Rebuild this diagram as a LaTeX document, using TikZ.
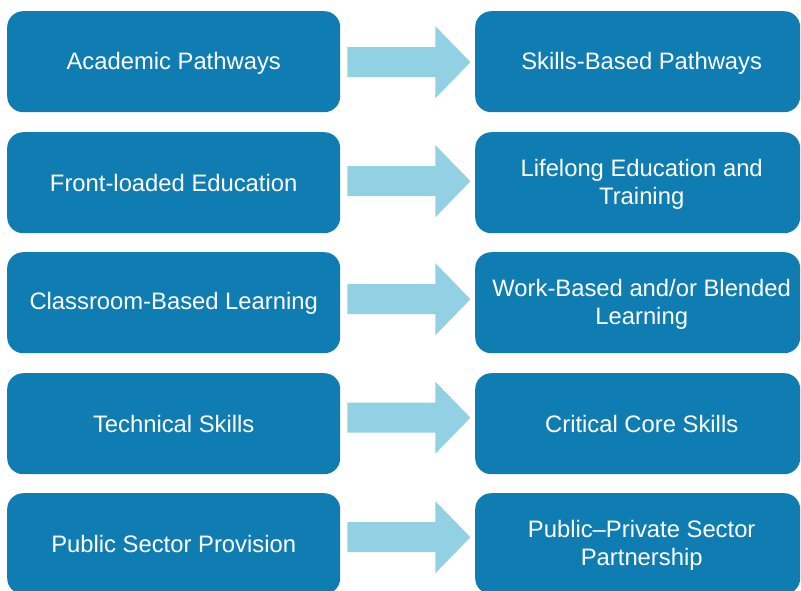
\documentclass[tikz,border=0pt]{standalone}
\usepackage{fontspec}
\setmainfont{Liberation Sans}
\usetikzlibrary{calc}
\definecolor{boxc}{RGB}{16,125,178}
\definecolor{arrc}{RGB}{146,208,228}
\tikzset{
  box/.style={fill=boxc, rounded corners=16pt, inner sep=0pt, anchor=north west,
    minimum height=101pt},
  lbox/.style={box, minimum width=333pt},
  rbox/.style={box, minimum width=325pt},
  txt/.style={text=white, align=center, inner sep=0pt,
    font=\fontsize{23.8}{28.5}\selectfont},
  arrowfill/.style={fill=arrc},
}
\newcommand\shiftarrow[2]{%
  \fill[arrowfill] ($(#1.east)+(7,#2-15)$) -- ++(88,0) -- ++(0,-21) -- ++(35,36)
    -- ++(-35,36) -- ++(0,-21) -- ++(-88,0) -- cycle;}
\begin{document}
\begin{tikzpicture}[x=1pt,y=-1pt]
\useasboundingbox (0,0) rectangle (801,590);
\clip (0,0) rectangle (801,590);
\node[lbox] (l1) at (7,11) {};
\node[lbox] (l2) at (7,132) {};
\node[lbox] (l3) at (7,252) {};
\node[lbox] (l4) at (7,373) {};
\node[lbox] (l5) at (7,493) {};
\node[rbox] (r1) at (475,11) {};
\node[rbox] (r2) at (475,132) {};
\node[rbox] (r3) at (475,252) {};
\node[rbox] (r4) at (475,373) {};
\node[rbox] (r5) at (475,493) {};
\node[txt] (tl1) at ([yshift=-1.5pt]l1.center) {Academic Pathways};
\node[txt] (tl2) at ([yshift=-0.5pt]l2.center) {Front-loaded Education};
\node[txt] (tl3) at ([yshift=-0.5pt]l3.center) {Classroom-Based Learning};
\node[txt] (tl4) at ([yshift=-0.5pt]l4.center) {Technical Skills};
\node[txt] (tl5) at ([yshift=-0.5pt]l5.center) {Public Sector Provision};
\node[txt] (tr1) at ([xshift=4pt,yshift=-1.5pt]r1.center) {Skills-Based Pathways};
\node[txt] (tr2) at ([xshift=4pt,yshift=-1.5pt]r2.center) {Lifelong Education and\\Training};
\node[txt] (tr3) at ([xshift=4pt,yshift=-1.5pt]r3.center) {Work-Based and/or Blended\\Learning};
\node[txt] (tr4) at ([xshift=4pt,yshift=-0.5pt]r4.center) {Critical Core Skills};
\node[txt] (tr5) at ([xshift=4pt,yshift=-1.5pt]r5.center) {Public--Private Sector\\Partnership};
\shiftarrow{l1}{0.5}
\shiftarrow{l2}{-1.5}
\shiftarrow{l3}{-3.5}
\shiftarrow{l4}{-6}
\shiftarrow{l5}{-6.5}
\end{tikzpicture}
\end{document}
